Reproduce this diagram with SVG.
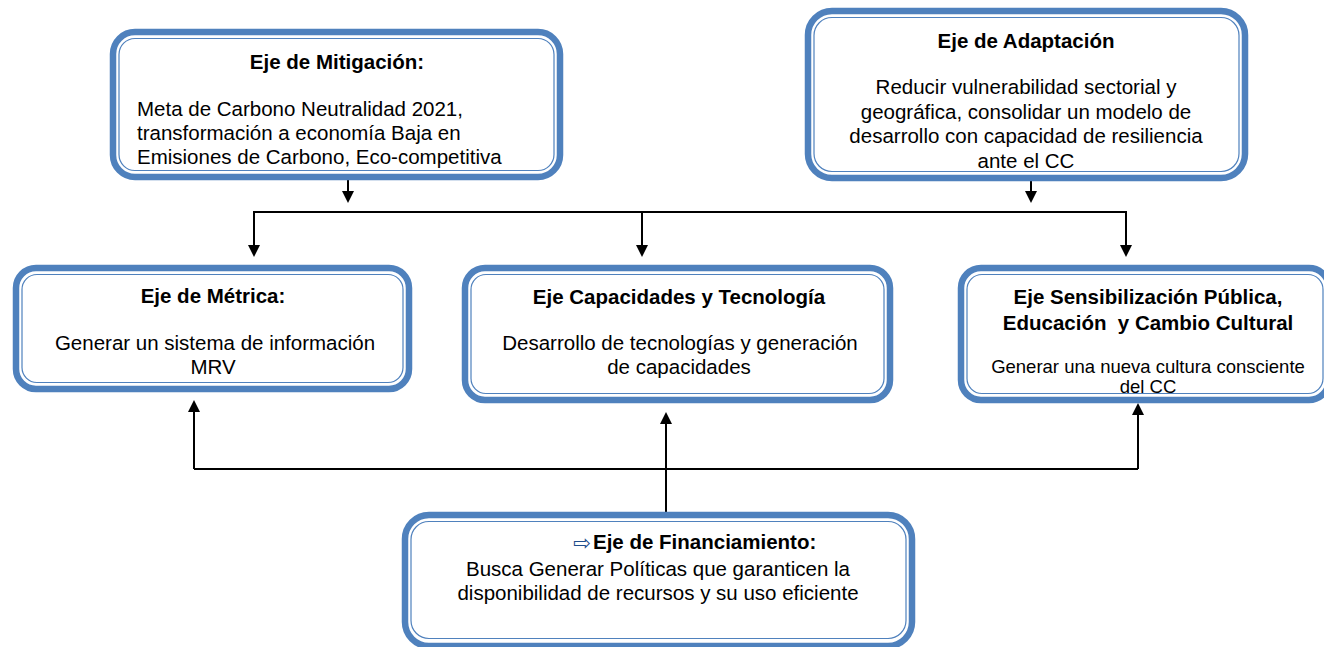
<svg xmlns="http://www.w3.org/2000/svg" width="1324" height="647" viewBox="0 0 1324 647">
<style>
.outer{fill:#ffffff;stroke:#4f81bd;stroke-width:6.5}
.inner{fill:none;stroke:#4f81bd;stroke-width:1.2}
.t{font-family:"Liberation Sans",Arial,sans-serif;font-size:20.5px;font-weight:bold;fill:#000;text-anchor:middle}
.b{font-family:"Liberation Sans",Arial,sans-serif;font-size:20.5px;fill:#000;text-anchor:middle}
.s{font-family:"Liberation Sans",Arial,sans-serif;font-size:18.5px;fill:#000;text-anchor:middle}
.c{fill:none;stroke:#000;stroke-width:2}
</style>
<defs>
<marker id="ah" markerUnits="userSpaceOnUse" markerWidth="13" markerHeight="13" refX="10" refY="6" orient="auto">
<path d="M0,0 L12,6 L0,12 z" fill="#000"/>
</marker>
</defs>
<rect width="1324" height="647" fill="#ffffff"/>

<g id="connectors">
<path class="c" d="M348,180 V201" marker-end="url(#ah)"/>
<path class="c" d="M1031,181 V201" marker-end="url(#ah)"/>
<path class="c" d="M254,255 V212 H1126 V255" />
<path class="c" d="M254,212 V255" marker-end="url(#ah)"/>
<path class="c" d="M1126,212 V255" marker-end="url(#ah)"/>
<path class="c" d="M642,212 V255" marker-end="url(#ah)"/>
<path class="c" d="M194,469 H1138"/>
<path class="c" d="M194,469 V402" marker-end="url(#ah)"/>
<path class="c" d="M1138,469 V405" marker-end="url(#ah)"/>
<path class="c" d="M666,512 V414" marker-end="url(#ah)"/>
</g>

<g id="mitigacion">
<rect class="outer" x="113" y="32" width="447" height="145" rx="22"/>
<rect class="inner" x="119" y="38.5" width="435" height="132" rx="16"/>
<text class="t" x="337" y="69">Eje de Mitigación:</text>
<text class="b" style="text-anchor:start" x="137" y="116">Meta de Carbono Neutralidad 2021,</text>
<text class="b" style="text-anchor:start" x="137" y="140">transformación a economía Baja en</text>
<text class="b" style="text-anchor:start" x="137" y="164">Emisiones de Carbono, Eco-competitiva</text>
</g>

<g id="adaptacion">
<rect class="outer" x="808" y="11" width="437" height="167" rx="24"/>
<rect class="inner" x="814" y="17.5" width="425" height="154" rx="18"/>
<text class="t" x="1026" y="48">Eje de Adaptación</text>
<text class="b" x="1026" y="94">Reducir vulnerabilidad sectorial y</text>
<text class="b" x="1026" y="118.5">geográfica, consolidar un modelo de</text>
<text class="b" x="1026" y="143">desarrollo con capacidad de resiliencia</text>
<text class="b" x="1026" y="168">ante el CC</text>
</g>

<g id="metrica">
<rect class="outer" x="16" y="268" width="393" height="121" rx="20"/>
<rect class="inner" x="22" y="274.5" width="381" height="108" rx="15"/>
<text class="t" x="213" y="303">Eje de Métrica:</text>
<text class="b" x="215" y="350">Generar un sistema de información</text>
<text class="b" x="213" y="374">MRV</text>
</g>

<g id="capacidades">
<rect class="outer" x="465" y="268" width="425" height="132" rx="20"/>
<rect class="inner" x="471" y="274.5" width="413" height="119" rx="15"/>
<text class="t" x="679" y="304">Eje Capacidades y Tecnología</text>
<text class="b" x="680" y="350">Desarrollo de tecnologías y generación</text>
<text class="b" x="679" y="374">de capacidades</text>
</g>

<g id="sensibilizacion">
<rect class="outer" x="961" y="268" width="368" height="132" rx="20"/>
<rect class="inner" x="967" y="274.5" width="356" height="119" rx="15"/>
<text class="t" x="1148" y="304">Eje Sensibilización Pública,</text>
<text class="t" x="1148" y="330" style="white-space:pre" xml:space="preserve">Educación  y Cambio Cultural</text>
<text class="s" x="1148" y="373">Generar una nueva cultura consciente</text>
<text class="s" x="1148" y="392.5">del CC</text>
</g>

<g id="financiamiento">
<rect class="outer" x="405" y="515" width="507" height="131" rx="24"/>
<rect class="inner" x="411" y="521.5" width="495" height="117" rx="18"/>
<text x="573" y="550" style="font-family:'DejaVu Sans',sans-serif;font-size:21px;fill:#1f4e8c">⇨</text>
<text class="t" style="text-anchor:start" x="593" y="549">Eje de Financiamiento:</text>
<text class="b" x="658" y="576">Busca Generar Políticas que garanticen la</text>
<text class="b" x="658" y="600">disponibilidad de recursos y su uso eficiente</text>
</g>
</svg>
